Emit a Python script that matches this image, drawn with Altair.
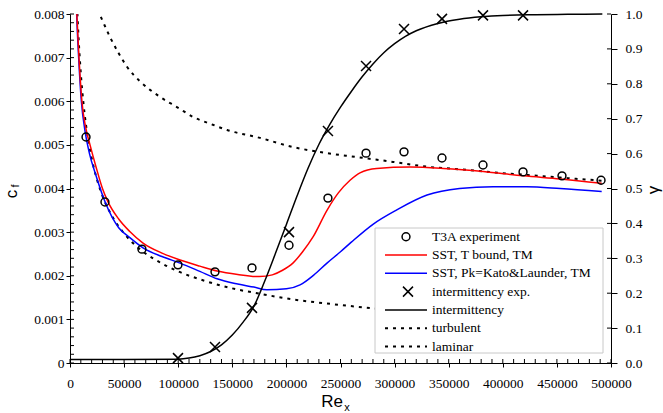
import altair as alt
import pandas as pd

# ---------------- data ----------------
re_t3a = [14800, 32300, 66500, 99800, 134000, 168200, 202400, 238400, 273600,
          308700, 343800, 381700, 418700, 454700, 490800]
cf_t3a = [0.00518, 0.00369, 0.00261, 0.00225, 0.00209, 0.00218, 0.0027, 0.00378,
          0.00481, 0.00484, 0.0047, 0.00454, 0.00438, 0.00429, 0.00419]

re_int_exp = [99800, 134000, 168200, 202400, 238400, 273600, 308700, 343800, 381700, 418700]
g_int_exp = [0.014, 0.046, 0.158, 0.375, 0.665, 0.851, 0.957, 0.986, 0.996, 0.996]

re_red = [5500, 6500, 8300, 11000, 14500, 18500, 24000, 30000, 35000, 45000, 55000,
          67500, 85000, 101700, 120000, 135900, 155000, 175000, 187000, 196000,
          206000, 215000, 224600, 237500, 248000, 258800, 268000, 283400, 314200,
          345000, 382000, 419000, 452900, 491400]
cf_red = [0.0085, 0.0079, 0.0070, 0.0060, 0.0054, 0.0050, 0.0045, 0.0040, 0.0037,
          0.0033, 0.00302, 0.00275, 0.00252, 0.00236, 0.00222, 0.00211, 0.00203,
          0.00198, 0.00202, 0.00212, 0.00229, 0.00255, 0.00289, 0.0035, 0.0039,
          0.00419, 0.00436, 0.00446, 0.00449, 0.00446, 0.00439, 0.00429, 0.00422,
          0.00412]

re_blue = [5500, 6300, 8000, 10500, 14000, 18000, 24000, 32300, 45000, 55000, 67500,
           85000, 101700, 120000, 135900, 155000, 170000, 182000, 200000, 212600,
           225000, 237500, 250000, 260000, 280000, 302000, 330000, 360000, 391000,
           422000, 453000, 491400]
cf_blue = [0.0085, 0.0079, 0.0070, 0.0060, 0.0053, 0.0048, 0.0043, 0.0037, 0.0031,
           0.00288, 0.00264, 0.00244, 0.00229, 0.0021, 0.00193, 0.00181, 0.00174,
           0.00168, 0.0017, 0.00179, 0.00201, 0.00229, 0.00255, 0.00277, 0.00318,
           0.00351, 0.00385, 0.004, 0.00404, 0.00404, 0.004, 0.00393]

re_turb = [25500, 30000, 37000, 45000, 52700, 65000, 83200, 100000, 113800, 130000,
           145300, 175600, 206100, 235000, 265300, 298500, 329700, 360400, 391200,
           422000, 452900, 491400]
cf_turb = [0.0081, 0.00785, 0.00747, 0.0071, 0.00679, 0.00645, 0.0061, 0.00585,
           0.00564, 0.00548, 0.00534, 0.00516, 0.00495, 0.00482, 0.00472, 0.00461,
           0.0045, 0.00444, 0.00437, 0.00431, 0.00425, 0.00418]

re_lam = [6500, 8000, 10000, 12500, 15000, 20000, 25000, 30000, 40000, 50000, 65000,
          80000, 100000, 125000, 150000, 175000, 200000, 250000, 300000, 350000,
          400000, 450000, 491400]
cf_lam = [0.0082, 0.00742, 0.00664, 0.00594, 0.00542, 0.0047, 0.0042, 0.00383,
          0.00332, 0.00297, 0.0026, 0.00235, 0.0021, 0.00188, 0.00171, 0.00159,
          0.00148, 0.00133, 0.00121, 0.00112, 0.00105, 0.00099, 0.00095]

re_int = [0, 50000, 100000, 110000, 120000, 130000, 140000, 150000, 160000, 170000,
          180000, 190000, 200000, 210000, 220000, 230000, 240000, 250000, 260000,
          270000, 280000, 290000, 300000, 310000, 320000, 340000, 360000, 380000,
          400000, 430000, 460000, 492000]
g_int = [0.01, 0.01, 0.011, 0.014, 0.021, 0.033, 0.052, 0.08, 0.117, 0.163, 0.235,
         0.315, 0.397, 0.48, 0.558, 0.626, 0.683, 0.733, 0.778, 0.82, 0.857, 0.889,
         0.915, 0.936, 0.952, 0.973, 0.985, 0.992, 0.996, 0.998, 0.999, 1.0]

x_ticks = [0, 50000, 100000, 150000, 200000, 250000, 300000, 350000, 400000, 450000, 500000]
x_minor = list(range(0, 500001, 10000))
cf_ticks = [0, 0.001, 0.002, 0.003, 0.004, 0.005, 0.006, 0.007, 0.008]
cf_minor = [round(i * 0.0002, 4) for i in range(41)]
g_ticks = [0.0, 0.1, 0.2, 0.3, 0.4, 0.5, 0.6, 0.7, 0.8, 0.9, 1.0]

legend_labels = ["T3A experiment", "SST, T bound, TM", "SST, Pk=Kato&Launder, TM",
                 "intermittency exp.", "intermittency", "turbulent", "laminar"]

# ---------------- layout ----------------
W, H = 541, 349
SERIF = "Times New Roman, Liberation Serif, serif"
SANS = "Arial, Liberation Sans, sans-serif"
FS = 13.5

x_scale = alt.Scale(domain=[0, 500000], nice=False, zero=False)
cf_scale = alt.Scale(domain=[0, 0.008], nice=False)
g_scale = alt.Scale(domain=[0, 1], nice=False)

common = dict(title=None, grid=False, labelFont=SERIF, labelFontSize=FS,
              labelColor="black", tickColor="black", domainColor="black",
              tickWidth=1, domainWidth=1, labelOverlap=False, labelFlush=False)
x_axis = alt.Axis(values=x_ticks, format="d", tickSize=4, labelPadding=9, **common)
cf_axis = alt.Axis(values=cf_ticks, format=".3~f", orient="left", tickSize=4,
                   labelPadding=2, **common)
g_axis = alt.Axis(values=g_ticks, format=".1f", orient="right", tickSize=6,
                  labelPadding=8, **common)


def X():
    return alt.X("Re:Q", scale=x_scale, axis=x_axis)


def Ycf():
    return alt.Y("cf:Q", scale=cf_scale, axis=cf_axis)


def Yg():
    return alt.Y("g:Q", scale=g_scale, axis=g_axis)


def cf_line(re, cf, color, dash=None, width=1.5):
    df = pd.DataFrame({"Re": re, "cf": cf})
    kw = dict(color=color, strokeWidth=width, clip=True, interpolate="monotone")
    if dash:
        kw["strokeDash"] = dash
    return alt.Chart(df).mark_line(**kw).encode(x=X(), y=Ycf())


lam = cf_line(re_lam, cf_lam, "black", dash=[3, 5], width=2)
turb = cf_line(re_turb, cf_turb, "black", dash=[3, 5], width=2)
blue = cf_line(re_blue, cf_blue, "#0000ff")
red = cf_line(re_red, cf_red, "#ff0000")

circles = alt.Chart(pd.DataFrame({"Re": re_t3a, "cf": cf_t3a})).mark_point(
    shape="circle", filled=False, size=62, color="black", strokeWidth=1.5, opacity=1
).encode(x=X(), y=Ycf())

# inner ticks (Excel style: minor ticks inside, major ticks crossing)
cf_in = alt.Chart(pd.DataFrame({"cf": cf_minor})).mark_rule(color="black", strokeWidth=1).encode(
    y=Ycf(), x=alt.value(0), x2=alt.value(4))
x_in = alt.Chart(pd.DataFrame({"Re": x_minor})).mark_rule(color="black", strokeWidth=1).encode(
    x=X(), y=alt.value(H), y2=alt.value(H - 4))

cf_group = alt.layer(lam, turb, blue, red, circles, cf_in, x_in)

int_line = alt.Chart(pd.DataFrame({"Re": re_int, "g": g_int})).mark_line(
    color="black", strokeWidth=1.5, interpolate="monotone").encode(x=X(), y=Yg())
CROSS = "M-1,-1L1,1M-1,1L1,-1"
crosses = alt.Chart(pd.DataFrame({"Re": re_int_exp, "g": g_int_exp})).mark_point(
    shape=CROSS, filled=False, size=100, color="black", strokeWidth=1.5, opacity=1
).encode(x=X(), y=Yg())
g_in = alt.Chart(pd.DataFrame({"g": g_ticks})).mark_rule(color="black", strokeWidth=1).encode(
    y=Yg(), x=alt.value(W - 4), x2=alt.value(W))

g_group = alt.layer(int_line, crosses, g_in)

# ---------------- legend ----------------
LX0, LX1 = 305, 533
LY0, LY1 = 214, 339
row_y = [222.7 + 18.3 * i for i in range(7)]
sym_x0, sym_x1 = 315, 357
sym_c = 336
text_x = 362

one = pd.DataFrame({"a": [0]})
box = alt.Chart(one).mark_rect(fill="white", stroke="#c8c8c8", strokeWidth=1).encode(
    x=alt.value(LX0), x2=alt.value(LX1), y=alt.value(LY0), y2=alt.value(LY1))
leg_text = alt.Chart(pd.DataFrame({"label": legend_labels, "ly": row_y})).mark_text(
    align="left", baseline="middle", font=SERIF, fontSize=FS, color="black").encode(
    x=alt.value(text_x), y=alt.Y("ly:Q", scale=None, axis=None), text="label:N")
leg_circle = alt.Chart(one).mark_point(shape="circle", filled=False, size=62, color="black",
                                       strokeWidth=1.5, opacity=1).encode(
    x=alt.value(sym_c), y=alt.value(row_y[0]))
leg_solid = alt.Chart(pd.DataFrame({"ly": [row_y[1], row_y[2], row_y[4]],
                                    "c": ["#ff0000", "#0000ff", "black"]})).mark_rule(strokeWidth=1.5).encode(
    x=alt.value(sym_x0), x2=alt.value(sym_x1), y=alt.Y("ly:Q", scale=None, axis=None),
    color=alt.Color("c:N", scale=None, legend=None))
leg_cross = alt.Chart(one).mark_point(shape=CROSS, filled=False, size=100, color="black",
                                      strokeWidth=1.5, opacity=1).encode(
    x=alt.value(sym_c + 2), y=alt.value(row_y[3]))
leg_dot = alt.Chart(pd.DataFrame({"ly": [row_y[5], row_y[6]]})).mark_rule(
    strokeWidth=2, color="black", strokeDash=[3, 5]).encode(
    x=alt.value(sym_x0), x2=alt.value(sym_x1), y=alt.Y("ly:Q", scale=None, axis=None))

# ---------------- axis titles ----------------
def txt(t, x, y, size, font=SANS, angle=0):
    kw = dict(align="center", baseline="middle", font=font, fontSize=size, color="black")
    if angle:
        kw["angle"] = angle
    return alt.Chart(one).mark_text(**kw).encode(
        x=alt.value(x), y=alt.value(y), text=alt.value(t))

titles = alt.layer(
    txt("c", -58, 180, 17, angle=270),
    txt("f", -54, 172, 11, angle=270),
    txt("γ", 584, 176, 17, angle=270),
    txt("Re", 262, 388, 17),
    txt("x", 277, 394, 11),
)

legend = alt.layer(box, leg_text, leg_circle, leg_solid, leg_cross, leg_dot, titles)

chart = alt.layer(cf_group, g_group, legend).resolve_scale(y="independent").properties(
    width=W, height=H,
    autosize=alt.AutoSizeParams(type="none"),
    padding={"left": 70, "top": 14, "right": 52, "bottom": 50},
    background="white",
).configure_view(stroke=None)

chart.save("out.html", embed_options={"renderer": "svg", "actions": False})
